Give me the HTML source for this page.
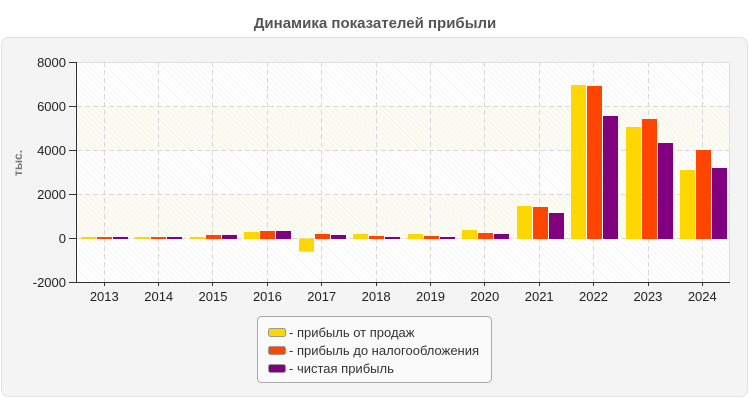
<!DOCTYPE html>
<html>
<head>
<meta charset="utf-8">
<style>
html,body{margin:0;padding:0;background:#fff;}
body{width:750px;height:400px;overflow:hidden;}
svg{display:block;}
text{font-family:"Liberation Sans",Arial,sans-serif;}
</style>
</head>
<body>
<svg width="750" height="400" viewBox="0 0 750 400" xmlns="http://www.w3.org/2000/svg">
<defs>
<pattern id="hatch" patternUnits="userSpaceOnUse" width="4" height="4" patternTransform="rotate(-45)">
<line x1="0" y1="0" x2="0" y2="4" stroke="#ececec" stroke-width="1"/>
</pattern>
</defs>
<text x="375" y="28" text-anchor="middle" font-size="15" font-weight="bold" fill="#555">Динамика показателей прибыли</text>
<rect x="1.5" y="37.5" width="746" height="359" rx="7" fill="#f4f4f4" stroke="#e2e2e2"/>
<rect x="76.5" y="62.5" width="653" height="220" fill="#ffffff"/>
<rect x="76.5" y="106.5" width="653" height="44" fill="#fcfcf2"/>
<rect x="76.5" y="194.5" width="653" height="44" fill="#fcfcf2"/>
<rect x="76.5" y="62.5" width="653" height="220" fill="url(#hatch)"/>
<g stroke="#d8d8d8" stroke-width="1" stroke-dasharray="5,3" fill="none">
<line x1="77" y1="106.5" x2="730" y2="106.5"/>
<line x1="77" y1="150.5" x2="730" y2="150.5"/>
<line x1="77" y1="194.5" x2="730" y2="194.5"/>
<line x1="77" y1="238.5" x2="730" y2="238.5"/>
<line x1="104.5" y1="62" x2="104.5" y2="282"/>
<line x1="158.5" y1="62" x2="158.5" y2="282"/>
<line x1="212.5" y1="62" x2="212.5" y2="282"/>
<line x1="267.5" y1="62" x2="267.5" y2="282"/>
<line x1="321.5" y1="62" x2="321.5" y2="282"/>
<line x1="376.5" y1="62" x2="376.5" y2="282"/>
<line x1="430.5" y1="62" x2="430.5" y2="282"/>
<line x1="484.5" y1="62" x2="484.5" y2="282"/>
<line x1="539.5" y1="62" x2="539.5" y2="282"/>
<line x1="593.5" y1="62" x2="593.5" y2="282"/>
<line x1="648.5" y1="62" x2="648.5" y2="282"/>
<line x1="702.5" y1="62" x2="702.5" y2="282"/>
</g>
<line x1="76" y1="62.5" x2="730" y2="62.5" stroke="#e0e0e0"/>
<line x1="729.5" y1="62" x2="729.5" y2="282" stroke="#e0e0e0"/>
<g>
<rect x="81" y="237" width="15" height="2" fill="#FFD700"/>
<rect x="97" y="237" width="15" height="2" fill="#FF4500"/>
<rect x="113" y="237" width="15" height="2" fill="#800080"/>
<rect x="135" y="237" width="15" height="2" fill="#FFD700"/>
<rect x="151" y="237" width="15" height="2" fill="#FF4500"/>
<rect x="167" y="237" width="15" height="2" fill="#800080"/>
<rect x="190" y="237" width="15" height="2" fill="#FFD700"/>
<rect x="206" y="235" width="15" height="4" fill="#FF4500"/>
<rect x="222" y="235" width="15" height="4" fill="#800080"/>
<rect x="244" y="232" width="15" height="7" fill="#FFD700"/>
<rect x="260" y="231" width="15" height="8" fill="#FF4500"/>
<rect x="276" y="231" width="15" height="8" fill="#800080"/>
<rect x="299" y="238.5" width="15" height="13.2" fill="#FFD700"/>
<rect x="315" y="234" width="15" height="5" fill="#FF4500"/>
<rect x="331" y="235" width="15" height="4" fill="#800080"/>
<rect x="353" y="234" width="15" height="5" fill="#FFD700"/>
<rect x="369" y="236" width="15" height="3" fill="#FF4500"/>
<rect x="385" y="237" width="15" height="2" fill="#800080"/>
<rect x="408" y="234" width="15" height="5" fill="#FFD700"/>
<rect x="424" y="236" width="15" height="3" fill="#FF4500"/>
<rect x="440" y="237" width="15" height="2" fill="#800080"/>
<rect x="462" y="230" width="15" height="9" fill="#FFD700"/>
<rect x="478" y="233" width="15" height="6" fill="#FF4500"/>
<rect x="494" y="234" width="15" height="5" fill="#800080"/>
<rect x="517" y="206" width="15" height="33" fill="#FFD700"/>
<rect x="533" y="207" width="15" height="32" fill="#FF4500"/>
<rect x="549" y="213" width="15" height="26" fill="#800080"/>
<rect x="571" y="85" width="15" height="154" fill="#FFD700"/>
<rect x="587" y="86" width="15" height="153" fill="#FF4500"/>
<rect x="603" y="116" width="15" height="123" fill="#800080"/>
<rect x="626" y="127" width="15" height="112" fill="#FFD700"/>
<rect x="642" y="119" width="15" height="120" fill="#FF4500"/>
<rect x="658" y="143" width="15" height="96" fill="#800080"/>
<rect x="680" y="170" width="15" height="69" fill="#FFD700"/>
<rect x="696" y="150" width="15" height="89" fill="#FF4500"/>
<rect x="712" y="168" width="15" height="71" fill="#800080"/>
</g>
<line x1="76.5" y1="62" x2="76.5" y2="283" stroke="#333"/>
<line x1="76" y1="282.5" x2="730" y2="282.5" stroke="#333"/>
<g stroke="#333">
<line x1="69" y1="62.5" x2="76" y2="62.5"/>
<line x1="69" y1="106.5" x2="76" y2="106.5"/>
<line x1="69" y1="150.5" x2="76" y2="150.5"/>
<line x1="69" y1="194.5" x2="76" y2="194.5"/>
<line x1="69" y1="238.5" x2="76" y2="238.5"/>
<line x1="69" y1="282.5" x2="76" y2="282.5"/>
<line x1="104.5" y1="282" x2="104.5" y2="286"/>
<line x1="158.5" y1="282" x2="158.5" y2="286"/>
<line x1="212.5" y1="282" x2="212.5" y2="286"/>
<line x1="267.5" y1="282" x2="267.5" y2="286"/>
<line x1="321.5" y1="282" x2="321.5" y2="286"/>
<line x1="376.5" y1="282" x2="376.5" y2="286"/>
<line x1="430.5" y1="282" x2="430.5" y2="286"/>
<line x1="484.5" y1="282" x2="484.5" y2="286"/>
<line x1="539.5" y1="282" x2="539.5" y2="286"/>
<line x1="593.5" y1="282" x2="593.5" y2="286"/>
<line x1="648.5" y1="282" x2="648.5" y2="286"/>
<line x1="702.5" y1="282" x2="702.5" y2="286"/>
</g>
<g font-size="13" fill="#222" text-anchor="end">
<text x="66" y="67">8000</text>
<text x="66" y="111">6000</text>
<text x="66" y="155">4000</text>
<text x="66" y="199">2000</text>
<text x="66" y="243">0</text>
<text x="66" y="287">-2000</text>
</g>
<g font-size="13" fill="#222" text-anchor="middle">
<text x="104.3" y="301">2013</text>
<text x="158.7" y="301">2014</text>
<text x="213" y="301">2015</text>
<text x="267.4" y="301">2016</text>
<text x="321.7" y="301">2017</text>
<text x="376.1" y="301">2018</text>
<text x="430.5" y="301">2019</text>
<text x="484.8" y="301">2020</text>
<text x="539.2" y="301">2021</text>
<text x="593.5" y="301">2022</text>
<text x="647.9" y="301">2023</text>
<text x="702.3" y="301">2024</text>
</g>
<text transform="translate(22,163) rotate(-90)" text-anchor="middle" font-size="12" font-weight="bold" fill="#777">тыс.</text>
<rect x="257.5" y="316.5" width="234" height="66" rx="4" fill="#fafafa" stroke="#aaa"/>
<rect x="268.5" y="328.5" width="17" height="8" rx="2" fill="#FFD700" stroke="#999"/>
<rect x="268.5" y="346.5" width="17" height="8" rx="2" fill="#FF4500" stroke="#999"/>
<rect x="268.5" y="364.5" width="17" height="8" rx="2" fill="#800080" stroke="#999"/>
<g font-size="13" fill="#333">
<text x="289" y="337">- прибыль от продаж</text>
<text x="289" y="355">- прибыль до налогообложения</text>
<text x="289" y="373">- чистая прибыль</text>
</g>
</svg>
</body>
</html>
